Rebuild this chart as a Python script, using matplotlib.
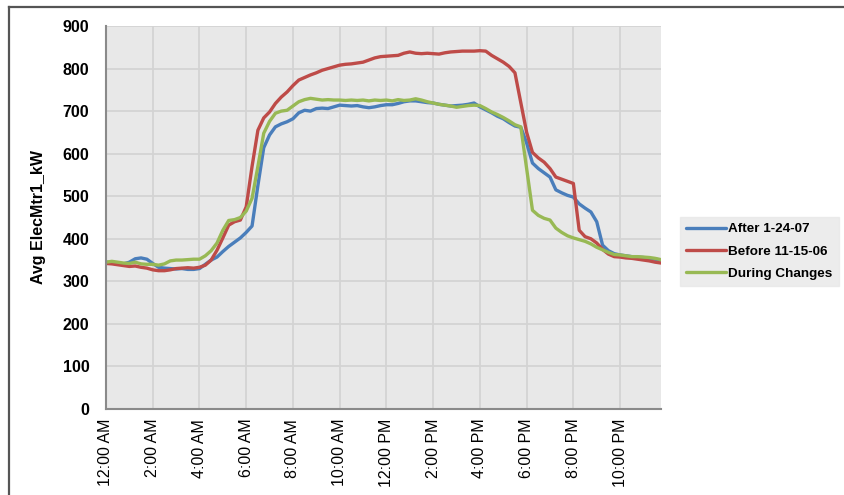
import numpy as np
import matplotlib
matplotlib.use("Agg")
import matplotlib.pyplot as plt
from matplotlib.lines import Line2D

plt.rcParams['font.family'] = ['Liberation Sans', 'DejaVu Sans']

# 15-minute intervals over one day (hours)
hours = np.arange(96) * 0.25

after_1_24_07 = [
    345, 344, 342, 341, 345, 353, 355, 352, 342, 333, 331, 330,
    329, 330, 328, 328, 330, 340, 350, 357, 370, 382, 392, 402,
    415, 430, 525, 614, 644, 663, 670, 675, 682, 696, 702, 700,
    706, 707, 706, 710, 714, 713, 712, 713, 710, 708, 710, 713,
    715, 715, 718, 722, 724, 724, 722, 720, 719, 716, 714, 712,
    713, 714, 716, 719, 710, 703, 696, 688, 682, 673, 665, 662,
    625, 578, 565, 555, 545, 515, 508, 502, 498, 482, 472, 463,
    440, 385, 372, 365, 362, 360, 358, 357, 356, 354, 352, 350,
]

before_11_15_06 = [
    342, 341, 339, 337, 335, 336, 333, 331, 327, 325, 325, 327,
    330, 331, 332, 331, 333, 338, 350, 373, 402, 432, 440, 444,
    475, 570, 655, 684, 698, 718, 733, 745, 760, 773, 779, 785,
    790, 796, 800, 804, 808, 810, 811, 813, 815, 820, 825, 828,
    829, 830, 831, 836, 839, 836, 835, 836, 835, 834, 837, 839,
    840, 841, 841, 841, 842, 841, 831, 823, 815, 805, 790, 720,
    650, 603, 590, 580, 565, 545, 540, 535, 530, 420, 405, 400,
    390, 375, 364, 358, 357, 355, 354, 352, 350, 348, 345, 343,
]

during_changes = [
    345, 347, 345, 343, 342, 345, 341, 340, 340, 338, 341, 348,
    350, 350, 351, 352, 352, 360, 372, 390, 420, 443, 445, 450,
    465, 495, 570, 648, 676, 695, 700, 702, 712, 722, 727, 730,
    728, 726, 727, 726, 726, 725, 726, 725, 726, 724, 726, 725,
    726, 724, 727, 725, 726, 729, 726, 722, 719, 716, 714, 712,
    709, 711, 713, 714, 713, 706, 698, 692, 685, 677, 668, 663,
    565, 467, 455, 448, 444, 425, 415, 407, 402, 398, 394, 388,
    380, 374, 368, 363, 362, 360, 358, 358, 357, 356, 354, 351,
]

tick_hours = list(range(0, 24, 2))
tick_labels = ["12:00 AM", "2:00 AM", "4:00 AM", "6:00 AM", "8:00 AM", "10:00 AM",
               "12:00 PM", "2:00 PM", "4:00 PM", "6:00 PM", "8:00 PM", "10:00 PM"]

series = [
    ("After 1-24-07", after_1_24_07, "#4a7ebb"),
    ("Before 11-15-06", before_11_15_06, "#be4b48"),
    ("During Changes", during_changes, "#98b954"),
]

W, H = 844, 495
fig = plt.figure(figsize=(W / 100, H / 100), dpi=100)
ax = fig.add_axes([106 / W, 1 - 409 / H, (661 - 106) / W, (409 - 26) / H])
ax.set_facecolor("#e8e8e8")

handles = []
for name, vals, col in series:
    ln, = ax.plot(hours, vals, color=col, lw=2.4, label=name, solid_capstyle="round")
    handles.append(ln)

ax.set_xlim(0, 23.75)
ax.set_ylim(0, 900)
ax.set_yticks(range(0, 901, 100))
ax.set_xticks(tick_hours)
ax.set_xticklabels(tick_labels, rotation=90, fontsize=11.5, va="top", ha="center")
for t in ax.get_yticklabels():
    t.set_fontsize(11.5)
    t.set_fontweight("bold")
ax.tick_params(axis="y", length=0, pad=12)
ax.tick_params(axis="x", length=0, pad=7)

ax.grid(True, color="#d3d3d3", lw=1.3)
ax.set_axisbelow(True)
for s in ["top", "right"]:
    ax.spines[s].set_visible(False)
for s in ["left", "bottom"]:
    ax.spines[s].set_color("#8a8a8a")
    ax.spines[s].set_linewidth(1.5)

fig.text(39 / W, 1 - 217.5 / H, "Avg ElecMtr1_kW", rotation=90, ha="center", va="center",
         fontsize=11.5, fontweight="bold")

leg = fig.legend(handles=handles, loc="upper left", bbox_to_anchor=(680 / W, 1 - 217 / H),
                 frameon=True, fancybox=False, handlelength=3.0, handletextpad=0.15,
                 labelspacing=0.72, borderpad=0.45, borderaxespad=0,
                 prop={"size": 9.7, "weight": "bold"})
leg.get_frame().set_facecolor("#e8e8e8")
leg.get_frame().set_edgecolor("#e8e8e8")

# outer chart border (top and left edges visible)
fig.add_artist(Line2D([9 / W, 1], [1 - 7 / H, 1 - 7 / H], color="#555555", lw=1.6))
fig.add_artist(Line2D([9 / W, 9 / W], [0, 1 - 7 / H], color="#555555", lw=1.6))

fig.savefig("out.png", dpi=100)
